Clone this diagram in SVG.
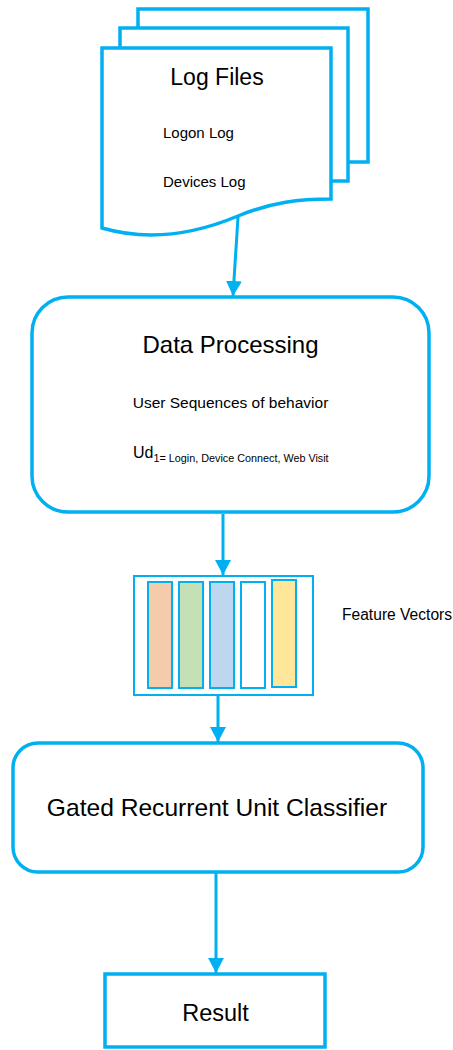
<svg xmlns="http://www.w3.org/2000/svg" width="453" height="1050" viewBox="0 0 453 1050">
  <style>
    .edge { fill: #ffffff; stroke: #00B0F0; stroke-width: 3.5; stroke-linejoin: miter; }
    .thin { stroke: #00B0F0; stroke-width: 2; }
    .lbl { font-family: "Liberation Sans", Arial, sans-serif; fill: #000000; }
    .link { fill: none; stroke: #00B0F0; stroke-width: 3; }
  </style>
  <defs>
    <marker id="arrow" markerUnits="userSpaceOnUse" markerWidth="16" markerHeight="16" refX="15" refY="8" orient="auto">
      <path d="M0,0 L15,8 L0,16 Z" fill="#00B0F0"/>
    </marker>
  </defs>
  <rect width="453" height="1050" fill="#ffffff"/>

  <!-- stacked log documents -->
  <g id="log-files">
    <rect class="edge" x="138" y="9" width="230" height="153"/>
    <rect class="edge" x="120" y="28" width="228" height="153"/>
    <path class="edge" d="M102,48 L331,48 L331,199 C300,199 272,202 238,216 C195,234 150,242 102,228 Z"/>
    <text class="lbl" x="217" y="85" font-size="23" text-anchor="middle">Log Files</text>
    <text class="lbl" x="163" y="138" font-size="15">Logon Log</text>
    <text class="lbl" x="163" y="187" font-size="15">Devices Log</text>
  </g>

  <!-- data processing stage -->
  <g id="data-processing">
    <rect class="edge" x="32" y="297" width="397" height="215" rx="36" ry="36" stroke-width="4"/>
    <text class="lbl" x="230.5" y="353" font-size="24" text-anchor="middle">Data Processing</text>
    <text class="lbl" x="230.5" y="408" font-size="15.5" text-anchor="middle">User Sequences of behavior</text>
    <text class="lbl" x="133" y="458" font-size="16">Ud<tspan font-size="10.8" dy="4">1= Login, Device Connect, Web Visit</tspan></text>
  </g>

  <!-- feature vectors -->
  <g id="feature-vectors">
    <rect class="thin" x="134" y="576" width="179" height="119" fill="#ffffff"/>
    <rect class="thin" x="148" y="582" width="24" height="106" fill="#F4CCAC"/>
    <rect class="thin" x="179" y="582" width="24" height="106" fill="#C5E0B4"/>
    <rect class="thin" x="210" y="582" width="24" height="106" fill="#BDD7EE"/>
    <rect class="thin" x="241" y="582" width="24" height="106" fill="#ffffff"/>
    <rect class="thin" x="272" y="580" width="24" height="107" fill="#FFE699"/>
    <text class="lbl" x="342" y="620" font-size="15.6">Feature Vectors</text>
  </g>

  <!-- classifier -->
  <g id="gru-classifier">
    <rect class="edge" x="13" y="743" width="410" height="129" rx="25" ry="25"/>
    <text class="lbl" x="217" y="816" font-size="24.6" text-anchor="middle">Gated Recurrent Unit Classifier</text>
  </g>

  <!-- output -->
  <g id="result">
    <rect class="edge" x="105" y="974" width="220" height="73"/>
    <text class="lbl" x="215.5" y="1021" font-size="23.5" text-anchor="middle">Result</text>
  </g>

  <!-- connectors -->
  <g id="connectors">
    <line class="link" x1="238" y1="217" x2="233" y2="296" marker-end="url(#arrow)"/>
    <line class="link" x1="223" y1="514" x2="223" y2="575" marker-end="url(#arrow)"/>
    <line class="link" x1="218" y1="695" x2="218" y2="742" marker-end="url(#arrow)"/>
    <line class="link" x1="216" y1="873" x2="216" y2="973" marker-end="url(#arrow)"/>
  </g>
</svg>
